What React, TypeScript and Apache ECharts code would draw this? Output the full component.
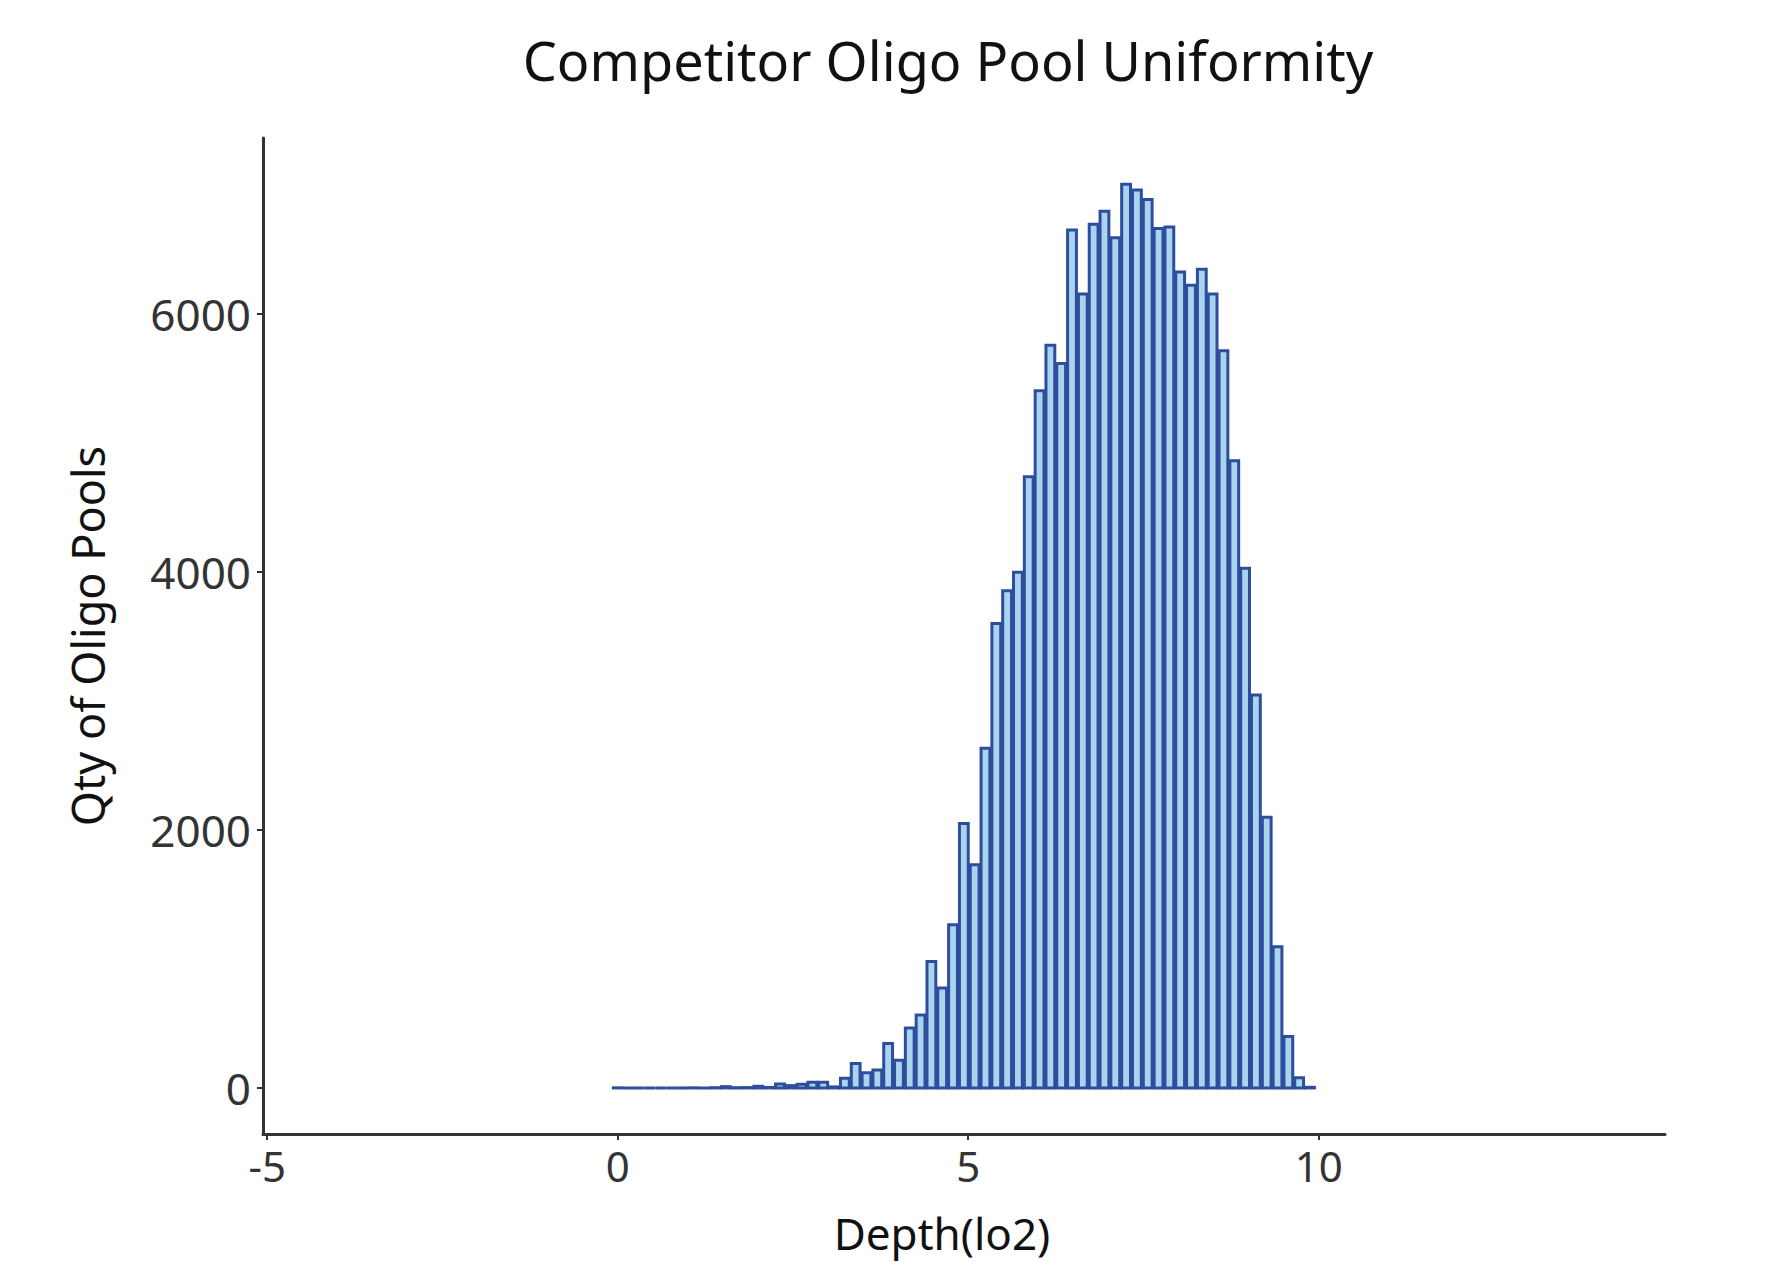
import React, { useEffect, useRef } from "react";
import * as echarts from "echarts";

// Histogram bins (Depth, log2)
const BIN_START = -0.077;
const BIN_WIDTH = 0.1543;
const counts: number[] = [
  1, 0, 0, 0, 0, 0, 0, 1, 0, 2,
  10, 2, 3, 13, 4, 30, 18, 28, 44, 44, 8,
  75, 190, 117, 140, 345, 215, 465, 565, 980, 775, 1265, 2050, 1730, 2633, 3601, 3854, 3997,
  4738, 5404, 5758, 5616, 6650, 6154, 6696, 6797, 6590, 7006, 6960, 6888, 6663, 6675, 6326, 6223, 6347, 6154, 5714, 4862,
  4028, 3046, 2098, 1095, 398, 80, 5,
];
const xTicks: number[] = [-5, 0, 5, 10];
const yTicks: number[] = [0, 2000, 4000, 6000];
const titleText = "Competitor Oligo Pool Uniformity";
const xName = "Depth(lo2)";
const yName = "Qty of Oligo Pools";

const FONT = "'Noto Sans', Lato, sans-serif";

export default function App() {
  const ref = useRef<HTMLDivElement>(null);
  useEffect(() => {
    if (!ref.current) return;
    const chart = echarts.init(ref.current, null, { renderer: "svg" });
    const data = counts.map((c, i) => [
      BIN_START + i * BIN_WIDTH,
      BIN_START + (i + 1) * BIN_WIDTH,
      c,
    ]);
    chart.setOption({
      animation: false,
      backgroundColor: "#ffffff",
      title: {
        text: titleText,
        left: 943,
        top: 28,
        textAlign: "center",
        textStyle: {
          fontFamily: FONT,
          fontSize: 54,
          fontWeight: "normal",
          color: "#111111",
        },
      },
      grid: { left: 263, right: 124, top: 138, bottom: 146, containLabel: false },
      xAxis: {
        type: "value",
        min: -5.06,
        max: 14.94,
        name: xName,
        nameLocation: "middle",
        nameGap: 77,
        nameTextStyle: {
          fontFamily: FONT,
          fontSize: 44,
          color: "#111111",
          padding: [0, 44, 0, 0],
        },
        axisLine: { onZero: false, lineStyle: { color: "#333333", width: 3 } },
        axisTick: {
          show: true,
          customValues: xTicks,
          length: 6,
          lineStyle: { color: "#333333", width: 2 },
        },
        axisLabel: {
          customValues: xTicks,
          margin: 10,
          fontFamily: FONT,
          fontSize: 42,
          color: "#333333",
          formatter: (v: number) => String(v),
        },
        splitLine: { show: false },
      },
      yAxis: {
        type: "value",
        min: -357,
        max: 7364,
        name: yName,
        nameLocation: "middle",
        nameGap: 153,
        nameTextStyle: {
          fontFamily: FONT,
          fontSize: 45,
          color: "#111111",
        },
        axisLine: { show: true, onZero: false, lineStyle: { color: "#333333", width: 3 } },
        axisTick: {
          show: true,
          customValues: yTicks,
          length: 6,
          lineStyle: { color: "#333333", width: 2 },
        },
        axisLabel: {
          customValues: yTicks,
          margin: 12,
          fontFamily: FONT,
          fontSize: 44,
          color: "#333333",
          formatter: (v: number) => String(v),
        },
        splitLine: { show: false },
      },
      series: [
        {
          type: "custom",
          data,
          encode: { x: [0, 1], y: 2 },
          renderItem: (params: any, api: any) => {
            const x0 = api.value(0);
            const x1 = api.value(1);
            const y = api.value(2);
            const p0 = api.coord([x0, 0]);
            const p1 = api.coord([x1, y]);
            const inset = y > 0 ? 1 : 0;
            return {
              type: "rect",
              shape: {
                x: p0[0] + inset,
                y: p1[1],
                width: p1[0] - p0[0] - 2 * inset,
                height: p0[1] - p1[1],
              },
              style: { fill: "#a8d4ee", stroke: "#2f4d9d", lineWidth: 3 },
            };
          },
        },
      ],
    });
    return () => chart.dispose();
  }, []);
  return (
    <div
      ref={ref}
      style={{ position: "absolute", left: 0, top: 0, width: 1789, height: 1280, background: "#fff" }}
    />
  );
}
